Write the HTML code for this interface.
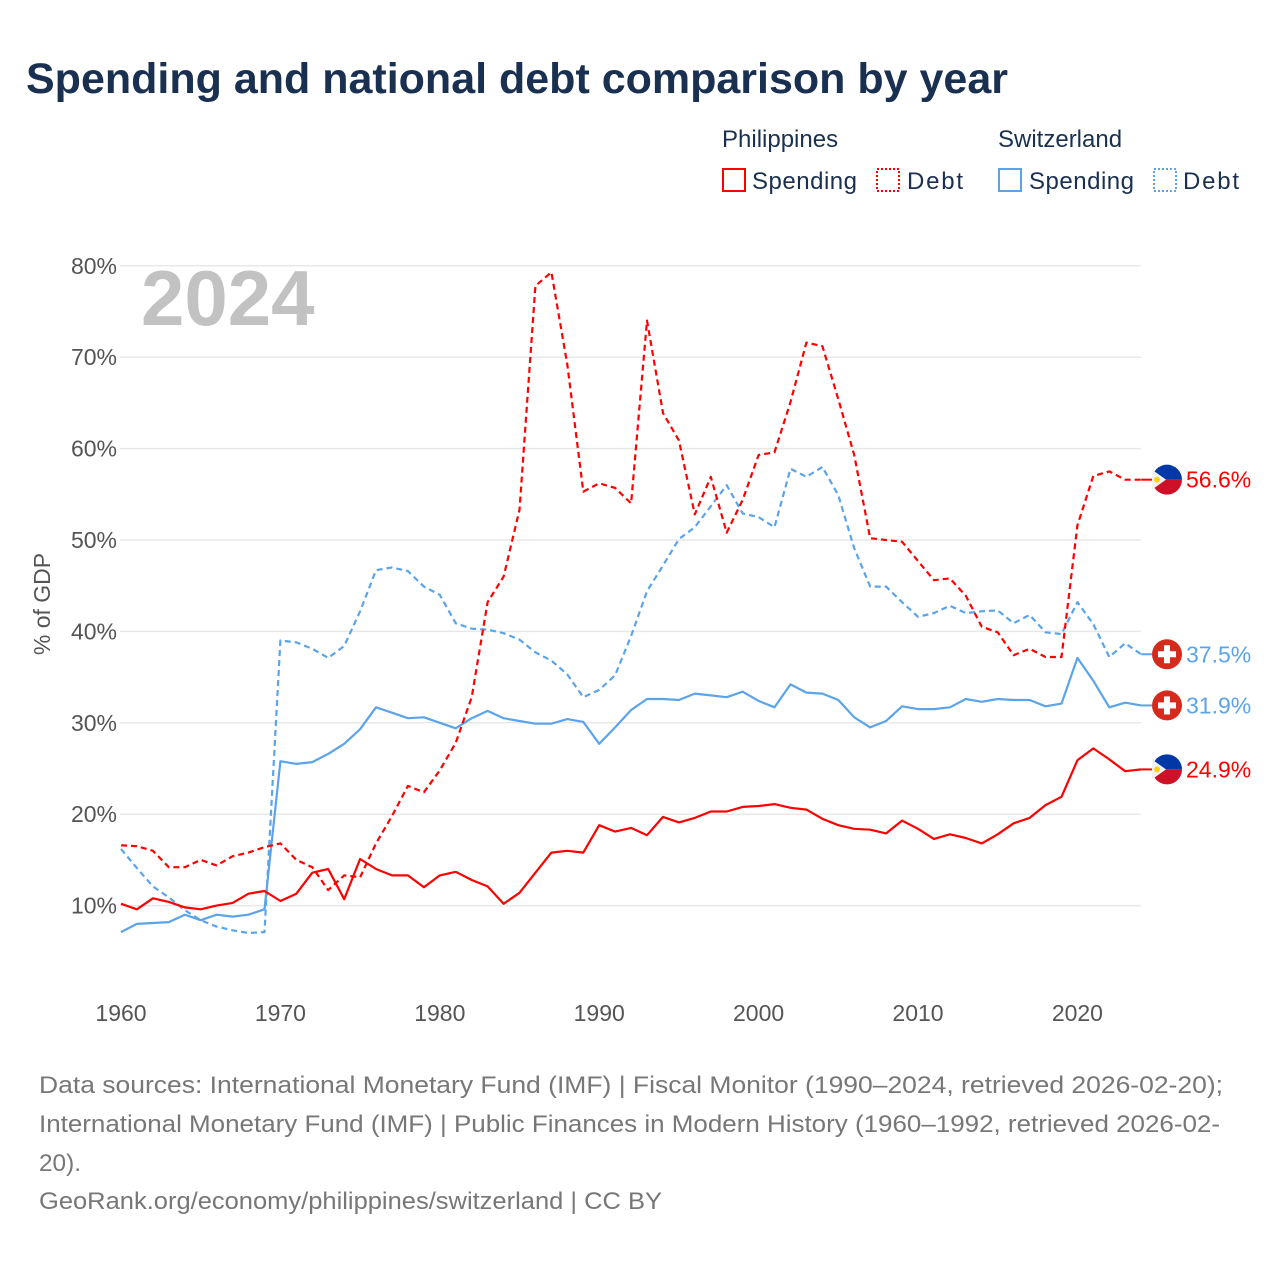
<!DOCTYPE html>
<html><head><meta charset="utf-8">
<style>
html,body{margin:0;padding:0;background:#fff;}
body{width:1280px;height:1280px;overflow:hidden;font-family:"Liberation Sans",sans-serif;}
text{font-family:"Liberation Sans",sans-serif;}
</style></head>
<body>
<svg id="chart" width="1280" height="1280" viewBox="0 0 1280 1280" xmlns="http://www.w3.org/2000/svg">
<text x="26" y="93" font-size="43" font-weight="bold" fill="#1a3050">Spending and national debt comparison by year</text>
<g>
<text x="722" y="147" font-size="24" fill="#1a3050">Philippines</text>
<text x="998" y="147" font-size="24" fill="#1a3050">Switzerland</text>
<g><rect x="723" y="169" width="22" height="22" fill="none" stroke="#f00" stroke-width="2"/><text x="752" y="189" font-size="24" fill="#1a3050" textLength="105">Spending</text></g>
<g><rect x="877" y="169" width="22" height="22" fill="none" stroke="#f00" stroke-width="2" stroke-dasharray="2,2"/><text x="907" y="189" font-size="24" fill="#1a3050" textLength="56">Debt</text></g>
<g><rect x="999" y="169" width="22" height="22" fill="none" stroke="#5ba4ea" stroke-width="2"/><text x="1029" y="189" font-size="24" fill="#1a3050" textLength="105">Spending</text></g>
<g><rect x="1154" y="169" width="22" height="22" fill="none" stroke="#5ba4ea" stroke-width="2" stroke-dasharray="2,2"/><text x="1183" y="189" font-size="24" fill="#1a3050" textLength="56">Debt</text></g>
</g>
<g id="grid"></g>
<text x="141" y="325" font-size="78" font-weight="bold" fill="#c2c2c2">2024</text>
<text transform="translate(50,604) rotate(-90)" text-anchor="middle" font-size="23" fill="#555">% of GDP</text>
<g id="xt"></g>
<g id="series"></g>
<g id="ends"></g>
<g font-size="24" fill="#777">
<text x="39" y="1093" textLength="1184" lengthAdjust="spacingAndGlyphs">Data sources: International Monetary Fund (IMF) | Fiscal Monitor (1990–2024, retrieved 2026-02-20);</text>
<text x="39" y="1132" textLength="1181" lengthAdjust="spacingAndGlyphs">International Monetary Fund (IMF) | Public Finances in Modern History (1960–1992, retrieved 2026-02-</text>
<text x="39" y="1171" textLength="42" lengthAdjust="spacingAndGlyphs">20).</text>
<text x="39" y="1209" textLength="623" lengthAdjust="spacingAndGlyphs">GeoRank.org/economy/philippines/switzerland | CC BY</text>
</g>
</svg>
<script>
const years=[];for(let y=1960;y<=2024;y++)years.push(y);
const phSpending=[10.2,9.6,10.8,10.4,9.8,9.6,10.0,10.3,11.3,11.6,10.5,11.3,13.6,14.0,10.7,15.1,14.0,13.3,13.3,12.0,13.3,13.7,12.8,12.1,10.2,11.4,13.6,15.8,16.0,15.8,18.8,18.1,18.5,17.7,19.7,19.1,19.6,20.3,20.3,20.8,20.9,21.1,20.7,20.5,19.5,18.8,18.4,18.3,17.9,19.3,18.4,17.3,17.8,17.4,16.8,17.8,19.0,19.6,21.0,21.9,25.9,27.2,26.0,24.7,24.9];
const phDebt=[16.6,16.5,16.0,14.2,14.2,15.0,14.4,15.4,15.8,16.4,16.8,15.0,14.2,11.7,13.3,13.1,16.8,19.8,23.1,22.4,24.8,27.8,32.8,43.2,46.0,53.3,77.8,79.3,69.2,55.3,56.2,55.7,54.0,74.0,63.9,60.9,52.8,56.9,50.8,54.4,59.3,59.6,65.1,71.6,71.2,65.4,59.3,50.2,50.0,49.8,47.7,45.6,45.8,43.9,40.5,39.9,37.4,38.1,37.2,37.2,51.6,57.0,57.5,56.6,56.6];
const chSpending=[7.1,8.0,8.1,8.2,9.0,8.4,9.0,8.8,9.0,9.6,25.8,25.5,25.7,26.6,27.7,29.3,31.7,31.1,30.5,30.6,30.0,29.4,30.5,31.3,30.5,30.2,29.9,29.9,30.4,30.1,27.7,29.5,31.4,32.6,32.6,32.5,33.2,33.0,32.8,33.4,32.4,31.7,34.2,33.3,33.2,32.5,30.6,29.5,30.2,31.8,31.5,31.5,31.7,32.6,32.3,32.6,32.5,32.5,31.8,32.1,37.1,34.6,31.7,32.2,31.9];
const chDebt=[16.2,14.1,12.1,10.9,9.5,8.4,7.7,7.3,7.0,7.1,39.0,38.8,38.1,37.1,38.4,42.2,46.7,47.0,46.6,44.9,44.0,40.9,40.3,40.2,39.8,39.1,37.7,36.8,35.3,32.8,33.6,35.2,39.5,44.4,47.2,50.1,51.4,53.7,56.0,52.9,52.5,51.4,57.8,56.9,58.0,54.9,49.1,44.9,44.9,43.2,41.6,42.0,42.8,42.0,42.2,42.3,40.9,41.8,39.9,39.7,43.2,40.8,37.2,38.7,37.5];
const yTicks=[10,20,30,40,50,60,70,80];
const xTicks=[1960,1970,1980,1990,2000,2010,2020];
const NS="http://www.w3.org/2000/svg";
const X=y=>121+(y-1960)*15.94;
const Y=v=>997-v*9.14;
function el(t,a,p){const e=document.createElementNS(NS,t);for(const k in a)e.setAttribute(k,a[k]);p.appendChild(e);return e;}
const grid=document.getElementById('grid');
yTicks.forEach(v=>{
 const l=el('line',{x1:120,x2:1141,y1:Y(v),y2:Y(v),stroke:'#e8e8e8','stroke-width':1.5},grid);
 
 
 const t=el('text',{x:117,y:Y(v)+8,'text-anchor':'end','font-size':23,fill:'#555'},grid);
 t.textContent=v+'%';
 
 
});
const xt=document.getElementById('xt');
xTicks.forEach(v=>{
 const t=el('text',{x:X(v),y:1021,'text-anchor':'middle','font-size':23,fill:'#555'},xt);
 t.textContent=v;
 
 
});
const ser=document.getElementById('series');
function line(data,color,dash,name){
 const d=data.map((v,i)=>(i?'L':'M')+X(years[i]).toFixed(1)+','+Y(v).toFixed(1)).join('');
 const p=el('path',{d:d,fill:'none',stroke:color,'stroke-width':2.2,'stroke-linejoin':'round'},ser);
 if(dash)p.setAttribute('stroke-dasharray','6,4');
 
 
}
line(chDebt,'#5ba4ea',true,'line-switzerland-debt');
line(chSpending,'#5ba4ea',false,'line-switzerland-spending');
line(phDebt,'#f00',true,'line-philippines-debt');
line(phSpending,'#f00',false,'line-philippines-spending');
const ends=document.getElementById('ends');
function endLabel(data,color,flag,name){
 const v=data[data.length-1],y=Y(v),x0=X(2024);
 el('line',{x1:x0,y1:y,x2:1152,y2:y,stroke:color,'stroke-width':2},ends);
 const g=el('g',{},ends);
 
 
 const cx=1167,r=15;
 if(flag==='ph'){
  el('path',{d:`M${cx-r},${y} A${r},${r} 0 0 1 ${cx+r},${y} Z`,fill:'#0038a8'},g);
  el('path',{d:`M${cx-r},${y} A${r},${r} 0 0 0 ${cx+r},${y} Z`,fill:'#ce1126'},g);
  el('path',{d:`M${cx-r},${y-10} L${cx-1},${y} L${cx-r},${y+10} Z`,fill:'#f2f2f2'},g);
  el('circle',{cx:cx-10,cy:y,r:3,fill:'#fcd116'},g);
 } else {
  el('circle',{cx:cx,cy:y,r:r,fill:'#d52b1e'},g);
  el('rect',{x:cx-3,y:y-9,width:6,height:18,fill:'#fff'},g);
  el('rect',{x:cx-9,y:y-3,width:18,height:6,fill:'#fff'},g);
 }
 const t=el('text',{x:1186,y:y+8,'font-size':23,fill:color},ends);
 t.textContent=v.toFixed(1)+'%';
 
 
}
endLabel(phDebt,'#f00','ph','end-label-ph-debt');
endLabel(chDebt,'#5ba4ea','ch','end-label-ch-debt');
endLabel(chSpending,'#5ba4ea','ch','end-label-ch-spending');
endLabel(phSpending,'#f00','ph','end-label-ph-spending');
</script>
</body></html>
